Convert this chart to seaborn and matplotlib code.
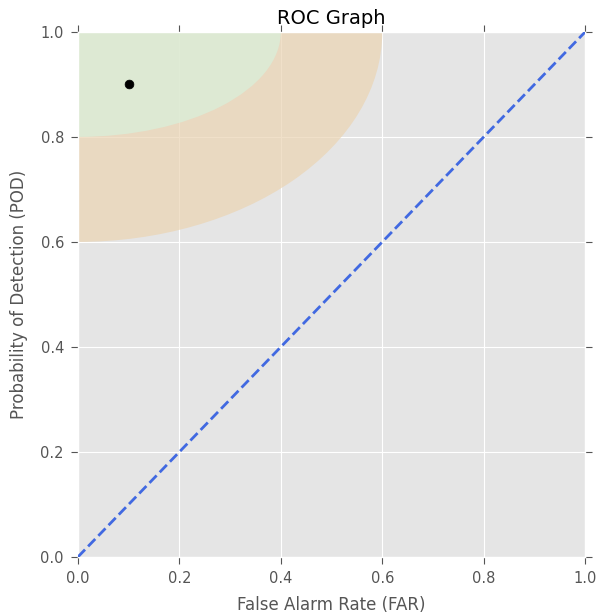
import matplotlib
matplotlib.use("Agg")
import matplotlib.pyplot as plt
import seaborn as sns
from matplotlib.patches import Ellipse

# data
diag_far = [0.0, 1.0]
diag_pod = [0.0, 1.0]
point_far = [0.1]
point_pod = [0.9]
zone_names = ["fair", "good"]
zone_far_radius = [0.6, 0.4]
zone_pod_radius = [0.4, 0.2]
zone_colors = ["#EBD4B2", "#D8F0DB"]

plt.style.use("ggplot")
fig, ax = plt.subplots(figsize=(5.99, 6.13), dpi=100)
fig.subplots_adjust(left=0.130, right=0.977, top=0.948, bottom=0.0914)

for name, rx, ry, c in zip(zone_names, zone_far_radius, zone_pod_radius, zone_colors):
    ax.add_patch(Ellipse((0, 1), 2 * rx, 2 * ry, facecolor=c, edgecolor="none", alpha=0.7, zorder=1))

sns.lineplot(x=diag_far, y=diag_pod, ax=ax, color="#4169E1", linestyle="--", linewidth=2, zorder=3)
sns.scatterplot(x=point_far, y=point_pod, ax=ax, color="black", s=40, edgecolor="black", zorder=4)

ax.set_xlim(0, 1)
ax.set_ylim(0, 1)
ax.set_xticks([0, 0.2, 0.4, 0.6, 0.8, 1.0])
ax.set_yticks([0, 0.2, 0.4, 0.6, 0.8, 1.0])
ax.tick_params(top=True, right=True, direction="out", length=5, pad=5, colors="#555555", labelsize=10.5)
ax.set_xlabel("False Alarm Rate (FAR)", fontsize=12, color="#555555", labelpad=7)
ax.set_ylabel("Probability of Detection (POD)", fontsize=12, color="#555555", labelpad=9)
ax.set_title("ROC Graph", fontsize=14, color="black")

plt.savefig("out.png", dpi=100)
